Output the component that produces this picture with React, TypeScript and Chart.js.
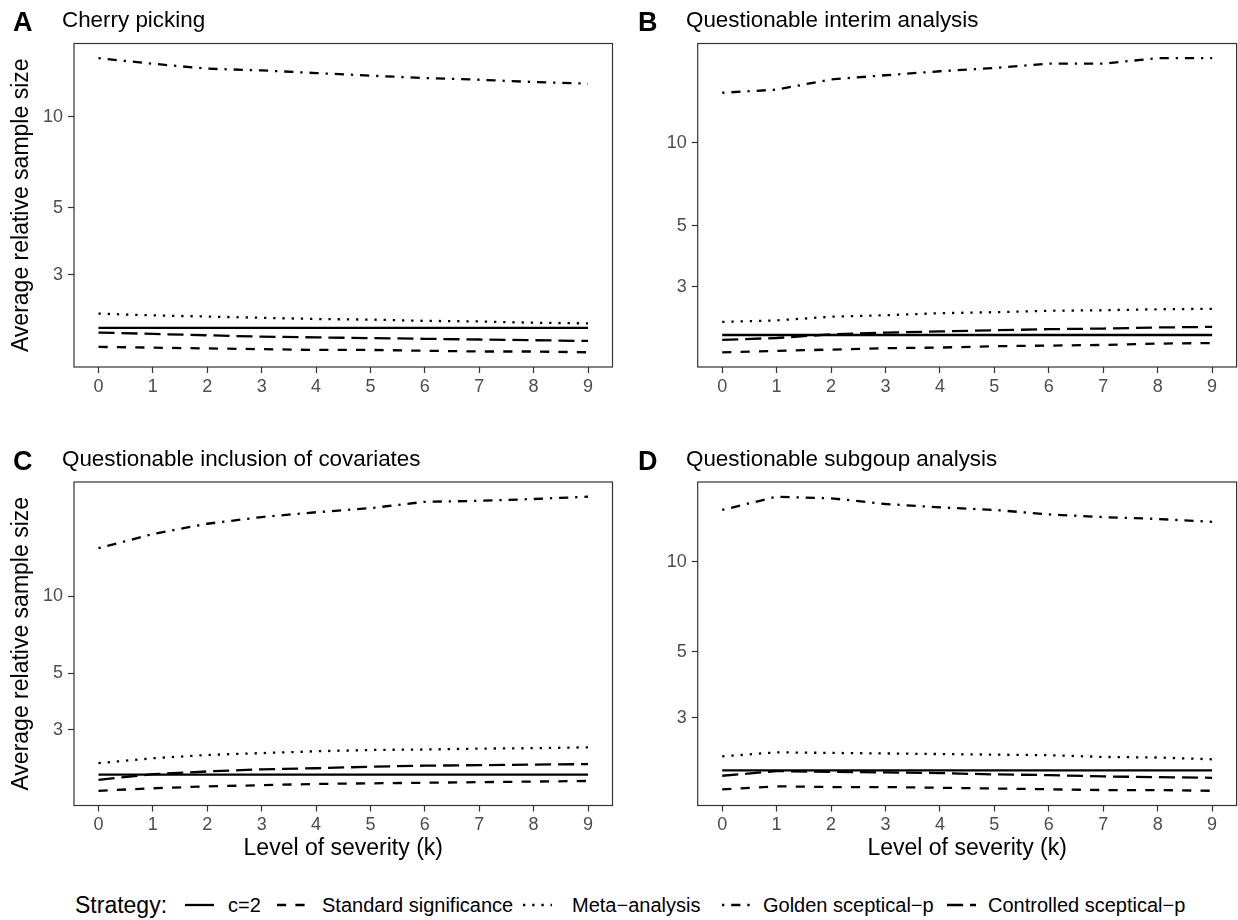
import React, { useEffect, useRef } from "react";
import { Chart, registerables } from "chart.js";

Chart.register(...registerables);

// ---------------- data ----------------
const K = [0, 1, 2, 3, 4, 5, 6, 7, 8, 9];
const Y_TICKS = [3, 5, 10];
const STRATEGIES = [
  "c=2",
  "Standard significance",
  "Meta\u2212analysis",
  "Golden sceptical\u2212p",
  "Controlled sceptical\u2212p",
];
const LEGEND_TITLE = "Strategy:";
const PANEL_LETTERS = ["A", "B", "C", "D"];
const PANEL_TITLES = [
  "Cherry picking",
  "Questionable interim analysis",
  "Questionable inclusion of covariates",
  "Questionable subgoup analysis",
];
const Y_TITLE = "Average relative sample size";
const X_TITLE = "Level of severity (k)";

// Panel A: Cherry picking
const cherryC2 = [2, 2, 2, 2, 2, 2, 2, 2, 2, 2];
const cherryStandard = [1.73, 1.72, 1.71, 1.7, 1.69, 1.69, 1.68, 1.67, 1.67, 1.66];
const cherryMeta = [2.23, 2.2, 2.18, 2.16, 2.14, 2.13, 2.11, 2.1, 2.08, 2.07];
const cherryGolden = [15.65, 15.0, 14.45, 14.26, 13.97, 13.7, 13.45, 13.28, 13.05, 12.89];
const cherryControlled = [1.93, 1.91, 1.89, 1.87, 1.86, 1.85, 1.84, 1.83, 1.82, 1.81];

// Panel B: Questionable interim analysis
const interimC2 = [2, 2, 2, 2, 2, 2, 2, 2, 2, 2];
const interimStandard = [1.73, 1.75, 1.77, 1.79, 1.8, 1.82, 1.83, 1.84, 1.86, 1.87];
const interimMeta = [2.23, 2.26, 2.33, 2.36, 2.4, 2.42, 2.45, 2.46, 2.48, 2.49];
const interimGolden = [15.2, 15.6, 17.0, 17.6, 18.2, 18.7, 19.4, 19.4, 20.3, 20.3];
const interimControlled = [1.92, 1.95, 2.01, 2.04, 2.06, 2.08, 2.1, 2.11, 2.13, 2.14];

// Panel C: Questionable inclusion of covariates
const covC2 = [2, 2, 2, 2, 2, 2, 2, 2, 2, 2];
const covStandard = [1.73, 1.77, 1.8, 1.82, 1.84, 1.85, 1.86, 1.87, 1.88, 1.89];
const covMeta = [2.22, 2.32, 2.39, 2.43, 2.47, 2.5, 2.51, 2.53, 2.54, 2.56];
const covGolden = [15.4, 17.5, 19.2, 20.4, 21.3, 22.1, 23.4, 23.6, 24.0, 24.5];
const covControlled = [1.91, 2.01, 2.06, 2.1, 2.12, 2.15, 2.17, 2.18, 2.19, 2.2];

// Panel D: Questionable subgroup analysis
const subC2 = [2, 2, 2, 2, 2, 2, 2, 2, 2, 2];
const subStandard = [1.73, 1.77, 1.76, 1.76, 1.75, 1.74, 1.73, 1.72, 1.72, 1.71];
const subMeta = [2.23, 2.3, 2.29, 2.28, 2.27, 2.26, 2.25, 2.22, 2.21, 2.18];
const subGolden = [14.9, 16.5, 16.3, 15.6, 15.2, 14.9, 14.4, 14.1, 13.9, 13.6];
const subControlled = [1.92, 1.99, 1.98, 1.97, 1.96, 1.94, 1.93, 1.91, 1.9, 1.89];

const PANEL_SERIES = [
  [cherryC2, cherryStandard, cherryMeta, cherryGolden, cherryControlled],
  [interimC2, interimStandard, interimMeta, interimGolden, interimControlled],
  [covC2, covStandard, covMeta, covGolden, covControlled],
  [subC2, subStandard, subMeta, subGolden, subControlled],
];

// ---------------- styles / layout ----------------
const FONT = "'Liberation Sans', Arial, Helvetica, sans-serif";
const LW = 2.3;
const DASHES: number[][] = [
  [],
  [4 * LW, 4 * LW],
  [1 * LW, 3 * LW],
  [1 * LW, 3 * LW, 4 * LW, 3 * LW],
  [7 * LW, 3 * LW],
];

const LAYOUT = [
  { left: 0, top: 0, width: 619, height: 400, padTop: 43.5, padRight: 6.5, yWidth: 74, xHeight: 33, yTitle: true, xTitle: false,
    letterX: 13, letterTop: 9, titleX: 62, titleTop: 9.2 },
  { left: 619, top: 0, width: 619, height: 400, padTop: 43.5, padRight: 1.4, yWidth: 78.7, xHeight: 33, yTitle: false, xTitle: false,
    letterX: 638, letterTop: 9, titleX: 686, titleTop: 9.2 },
  { left: 0, top: 440, width: 619, height: 440, padTop: 42, padRight: 6.5, yWidth: 74, xHeight: 74.5, yTitle: true, xTitle: true,
    letterX: 13, letterTop: 447.6, titleX: 62, titleTop: 447.7 },
  { left: 619, top: 440, width: 619, height: 440, padTop: 42, padRight: 1.4, yWidth: 78.7, xHeight: 74.5, yTitle: false, xTitle: true,
    letterX: 638, letterTop: 447.6, titleX: 686, titleTop: 447.7 },
];

const LEGEND_POS = {
  titleX: 75,
  keyX: [185, 277, 523, 722, 947],
  labelX: [228, 322, 572, 763, 988],
  centerY: 905,
};

function logRange(series: number[][]): [number, number] {
  const all = series.flat();
  const lo = Math.log10(Math.min(...all));
  const hi = Math.log10(Math.max(...all));
  const pad = (hi - lo) * 0.05;
  return [Math.pow(10, lo - pad), Math.pow(10, hi + pad)];
}

const panelBorder = {
  id: "panelBorder",
  afterDatasetsDraw(chart: any) {
    const { ctx, chartArea } = chart;
    ctx.save();
    ctx.strokeStyle = "#333333";
    ctx.lineWidth = 1.2;
    ctx.strokeRect(chartArea.left, chartArea.top, chartArea.right - chartArea.left, chartArea.bottom - chartArea.top);
    ctx.restore();
  },
};

function Panel({ index }: { index: number }) {
  const ref = useRef<HTMLCanvasElement | null>(null);
  const L = LAYOUT[index];
  useEffect(() => {
    if (!ref.current) return;
    const series = PANEL_SERIES[index];
    const [ymin, ymax] = logRange(series);
    const chart = new Chart(ref.current, {
      type: "line",
      data: {
        datasets: STRATEGIES.map((name, i) => ({
          label: name,
          data: K.map((k, j) => ({ x: k, y: series[i][j] })),
          borderColor: "#000000",
          backgroundColor: "#000000",
          borderWidth: LW,
          borderDash: DASHES[i],
          borderCapStyle: "butt" as const,
          borderJoinStyle: "round" as const,
          pointRadius: 0,
          pointHoverRadius: 0,
          fill: false,
          tension: 0,
        })),
      },
      options: {
        animation: false,
        responsive: false,
        devicePixelRatio: 1,
        events: [],
        layout: { padding: { top: L.padTop, right: L.padRight, left: 0, bottom: 0 } },
        plugins: {
          legend: { display: false },
          tooltip: { enabled: false },
          title: { display: false },
        },
        scales: {
          x: {
            type: "linear",
            min: -0.45,
            max: 9.45,
            afterBuildTicks: (scale: any) => {
              scale.ticks = K.map((v) => ({ value: v }));
            },
            afterFit: (scale: any) => {
              scale.height = L.xHeight;
            },
            ticks: {
              color: "#4D4D4D",
              font: { family: FONT, size: 18 },
              padding: 3,
              maxRotation: 0,
              autoSkip: false,
              callback: (v: any) => String(v),
            },
            grid: {
              display: true,
              drawOnChartArea: false,
              drawTicks: true,
              tickLength: 6,
              tickColor: "#333333",
              tickWidth: 1.2,
            },
            border: { display: false },
            title: {
              display: L.xTitle,
              text: X_TITLE,
              color: "#000000",
              font: { family: FONT, size: 23 },
              padding: { top: 0, bottom: 17.5 },
            },
          },
          y: {
            type: "logarithmic",
            min: ymin,
            max: ymax,
            afterBuildTicks: (scale: any) => {
              scale.ticks = Y_TICKS.map((v) => ({ value: v }));
            },
            afterFit: (scale: any) => {
              scale.width = L.yWidth;
            },
            ticks: {
              color: "#4D4D4D",
              font: { family: FONT, size: 18 },
              padding: 5,
              autoSkip: false,
              callback: (v: any) => String(v),
            },
            grid: {
              display: true,
              drawOnChartArea: false,
              drawTicks: true,
              tickLength: 6,
              tickColor: "#333333",
              tickWidth: 1.2,
            },
            border: { display: false },
            title: {
              display: L.yTitle,
              text: Y_TITLE,
              color: "#000000",
              font: { family: FONT, size: 23 },
              padding: { top: 8, bottom: 0 },
            },
          },
        },
      },
      plugins: [panelBorder],
    } as any);
    return () => chart.destroy();
  }, [index]);

  return (
    <canvas
      ref={ref}
      width={L.width}
      height={L.height}
      style={{ position: "absolute", left: L.left, top: L.top, width: L.width, height: L.height }}
    />
  );
}

function LegendKey({ dash }: { dash: number[] }) {
  return (
    <svg width={29} height={10} style={{ display: "block" }}>
      <line
        x1={0}
        x2={29}
        y1={5}
        y2={5}
        stroke="#000"
        strokeWidth={LW}
        strokeDasharray={dash.length ? dash.join(" ") : undefined}
        strokeLinecap="butt"
      />
    </svg>
  );
}

export default function App() {
  return (
    <div
      style={{
        position: "absolute",
        left: 0,
        top: 0,
        width: 1238,
        height: 920,
        background: "#ffffff",
        fontFamily: FONT,
        overflow: "hidden",
      }}
    >
      {LAYOUT.map((_, i) => (
        <Panel key={"p" + i} index={i} />
      ))}
      {LAYOUT.map((L, i) => (
        <React.Fragment key={"t" + i}>
          <div
            style={{
              position: "absolute",
              left: L.letterX,
              top: L.letterTop,
              fontSize: 27,
              lineHeight: "27px",
              fontWeight: "bold",
              color: "#000",
              whiteSpace: "nowrap",
            }}
          >
            {PANEL_LETTERS[i]}
          </div>
          <div
            style={{
              position: "absolute",
              left: L.titleX,
              top: L.titleTop,
              fontSize: 22.4,
              lineHeight: "22.4px",
              color: "#000",
              whiteSpace: "nowrap",
            }}
          >
            {PANEL_TITLES[i]}
          </div>
        </React.Fragment>
      ))}
      <div
        style={{
          position: "absolute",
          left: LEGEND_POS.titleX,
          top: LEGEND_POS.centerY - 12,
          fontSize: 23,
          lineHeight: "24px",
          color: "#000",
          whiteSpace: "nowrap",
        }}
      >
        {LEGEND_TITLE}
      </div>
      {STRATEGIES.map((name, i) => (
        <React.Fragment key={"l" + i}>
          <div style={{ position: "absolute", left: LEGEND_POS.keyX[i], top: LEGEND_POS.centerY - 5 }}>
            <LegendKey dash={DASHES[i]} />
          </div>
          <div
            style={{
              position: "absolute",
              left: LEGEND_POS.labelX[i],
              top: LEGEND_POS.centerY - 10,
              fontSize: 20,
              lineHeight: "20px",
              color: "#000",
              whiteSpace: "nowrap",
            }}
          >
            {name}
          </div>
        </React.Fragment>
      ))}
    </div>
  );
}
